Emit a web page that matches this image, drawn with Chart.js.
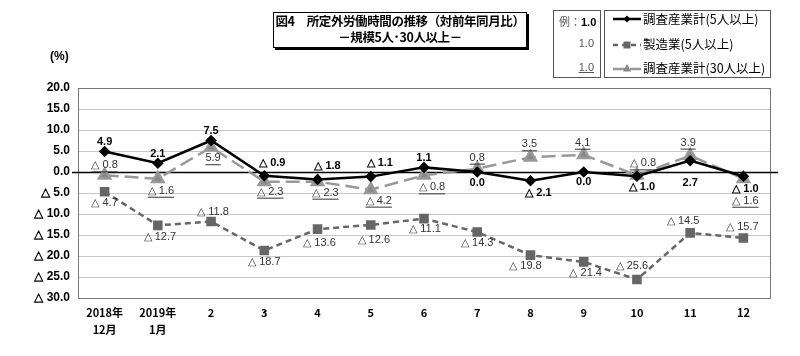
<!DOCTYPE html>
<html><head><meta charset="utf-8">
<script src="https://cdn.jsdelivr.net/npm/chart.js@4"></script>
<style>
html,body{margin:0;padding:0;background:#fff;}
#wrap{position:relative;width:800px;height:356px;font-family:"Noto Sans CJK JP","Liberation Sans",sans-serif;}
canvas{position:absolute;left:0;top:0;}
.title{position:absolute;left:273px;top:12px;width:252px;height:34px;border:1px solid #000;box-shadow:2px 2px 0 #000;text-align:center;font-size:12.5px;letter-spacing:-0.4px;white-space:nowrap;font-weight:bold;line-height:16px;background:#fff;}
.unit{position:absolute;left:50px;top:49px;font-size:12px;font-weight:bold;font-family:"Liberation Sans",sans-serif;}
.box1{position:absolute;left:553px;top:10px;width:46px;height:66px;border:1px solid #555;font-family:"Liberation Sans Narrow","Liberation Sans",sans-serif;font-size:11px;}
.box2{position:absolute;left:604px;top:10px;width:165px;height:66px;border:1px solid #555;font-size:12.5px;}
.r{position:absolute;white-space:nowrap;}
</style></head>
<body><div id="wrap">
<canvas id="c" width="800" height="356"></canvas>
<div class="title">図4　所定外労働時間の推移（対前年同月比）<br>－規模5人･30人以上－</div>
<div class="unit">(%)</div>
<div class="box1">
 <div class="r" style="left:5px;top:2px;font-weight:bold;"><span style="font-family:'Noto Sans CJK JP';font-weight:normal;color:#555">例：</span>1.0</div>
 <div class="r" style="right:6px;top:26px;color:#555;">1.0</div>
 <div class="r" style="right:6px;top:50px;color:#555;text-decoration:underline;">1.0</div>
</div>
<div class="box2">
 <svg class="r" style="left:6px;top:0px" width="32" height="66">
  <line x1="2" y1="8" x2="30" y2="8" stroke="#000" stroke-width="2.5"/>
  <polygon points="16,4.5 19.5,8 16,11.5 12.5,8" fill="#000"/>
  <line x1="2" y1="34" x2="30" y2="34" stroke="#666" stroke-width="2.5" stroke-dasharray="5,4"/>
  <rect x="12.5" y="30.5" width="7" height="7" fill="#666"/>
  <line x1="2" y1="58" x2="30" y2="58" stroke="#999" stroke-width="2.5" stroke-dasharray="12,5"/>
  <polygon points="16,53 20,60.5 12,60.5" fill="#888"/>
 </svg>
 <div class="r" style="left:38px;top:-2px;">調査産業計(5人以上)</div>
 <div class="r" style="left:38px;top:23px;">製造業(5人以上)</div>
 <div class="r" style="left:38px;top:47px;">調査産業計(30人以上)</div>
</div>
</div>
<script>
// ---- data ----
const categories = [['2018年','12月'],['2019年','1月'],'2','3','4','5','6','7','8','9','10','11','12'];
const allIndustry5 = [4.9, 2.1, 7.5, -0.9, -1.8, -1.1, 1.1, 0.0, -2.1, 0.0, -1.0, 2.7, -1.0];
const manufacturing5 = [-4.7, -12.7, -11.8, -18.7, -13.6, -12.6, -11.1, -14.3, -19.8, -21.4, -25.6, -14.5, -15.7];
const allIndustry30 = [-0.8, -1.6, 5.9, -2.3, -2.3, -4.2, -0.8, 0.8, 3.5, 4.1, -0.8, 3.9, -1.6];
const yTicks = [20, 15, 10, 5, 0, -5, -10, -15, -20, -25, -30];

// label offsets (dx, dy) relative to each point
const off1 = [[0,-9],[0,-9],[0,-10],[8,-13],[10,-14],[9,-14],[0,-9],[0,11],[8,12],[0,10],[5,11],[0,22],[2,13]];
const off2 = [[0,11],[2,12],[2,-10],[0,11],[2,14],[3,15],[1,10],[0,11],[-5,11],[2,11],[-5,-14],[-7,-12],[-1,-11]];
const off3 = [[0,-10],[3,12],[2,11],[6,10],[8,11],[8,11],[8,12],[0,-11],[-1,-13],[-1,-12],[6,-12],[-2,-13],[2,22]];

function fmt(v){ return v < 0 ? '△ ' + Math.abs(v).toFixed(1) : v.toFixed(1); }

const labelPlugin = {
  id:'labels',
  afterDatasetsDraw(chart){
    const ctx = chart.ctx;
    const cfgs = [
      {off:off1, font:'bold 11px "Liberation Sans Narrow","Liberation Sans",sans-serif', color:'#000', ul:false},
      {off:off2, font:'11px "Liberation Sans Narrow","Liberation Sans",sans-serif', color:'#333', ul:false},
      {off:off3, font:'11px "Liberation Sans Narrow","Liberation Sans",sans-serif', color:'#333', ul:true}
    ];
    chart.data.datasets.forEach((ds, di) => {
      const meta = chart.getDatasetMeta(di);
      const c = cfgs[di];
      ctx.save();
      ctx.font = c.font; ctx.fillStyle = c.color; ctx.strokeStyle = c.color;
      ctx.textAlign = 'center'; ctx.textBaseline = 'middle';
      meta.data.forEach((pt, i) => {
        const t = fmt(ds.data[i]);
        const x = pt.x + c.off[i][0], y = pt.y + c.off[i][1];
        ctx.fillText(t, x, y);
        if (c.ul){
          const w = ctx.measureText(t).width;
          ctx.lineWidth = 1;
          ctx.beginPath(); ctx.moveTo(x - w/2, y + 6.5); ctx.lineTo(x + w/2, y + 6.5); ctx.stroke();
        }
      });
      ctx.restore();
    });
  }
};

const framePlugin = {
  id:'frame',
  beforeDatasetsDraw(chart){
    const {ctx, chartArea:a, scales:{y}} = chart;
    ctx.save();
    ctx.strokeStyle = '#777'; ctx.lineWidth = 1;
    ctx.strokeRect(a.left + 0.5, a.top + 0.5, a.right - a.left, a.bottom - a.top);
    const y0 = Math.round(y.getPixelForValue(0)) + 0.5;
    ctx.strokeStyle = '#000'; ctx.lineWidth = 1.5;
    ctx.beginPath(); ctx.moveTo(a.left - 6, y0); ctx.lineTo(a.right + 8, y0); ctx.stroke();
    ctx.restore();
  }
};

new Chart(document.getElementById('c'), {
  type:'line',
  data:{
    labels: categories,
    datasets:[
      {label:'調査産業計(5人以上)', data: allIndustry5, borderColor:'#000', backgroundColor:'#000', borderWidth:2.5,
       pointStyle:'rectRot', pointRadius:4, tension:0, order:0},
      {label:'製造業(5人以上)', data: manufacturing5, borderColor:'#666', backgroundColor:'#666', borderWidth:2.5,
       borderDash:[6,4], pointStyle:'rect', pointRadius:5, tension:0, order:2},
      {label:'調査産業計(30人以上)', data: allIndustry30, borderColor:'#999', backgroundColor:'#888', borderWidth:2.5,
       borderDash:[14,6], pointStyle:'triangle', pointRadius:6.5, tension:0, order:1}
    ]
  },
  options:{
    responsive:false, animation:false,
    layout:{padding:{top:88, right:30, left:0, bottom:0}},
    plugins:{legend:{display:false}, tooltip:{enabled:false}},
    scales:{
      x:{
        offset:true,
        grid:{display:false},
        border:{display:false},
        ticks:{color:'#000', padding:-1, maxRotation:0, autoSkip:false,
          font:{family:'"Liberation Sans Narrow","Noto Sans CJK JP",sans-serif', size:11, weight:'bold', lineHeight:1.5}},
        afterFit(s){ s.height = 58; }
      },
      y:{
        min:-30, max:20,
        afterBuildTicks(s){ s.ticks = yTicks.map(v => ({value:v})); },
        grid:{color:'#c8c8c8', drawTicks:false},
        border:{display:false},
        ticks:{color:'#000', padding:8, callback:v => fmt(v),
          font:{family:'"Liberation Sans",sans-serif', size:12, weight:'bold'}},
        afterFit(s){ s.width = 78; }
      }
    }
  },
  plugins:[framePlugin, labelPlugin]
});
</script>
</body></html>
